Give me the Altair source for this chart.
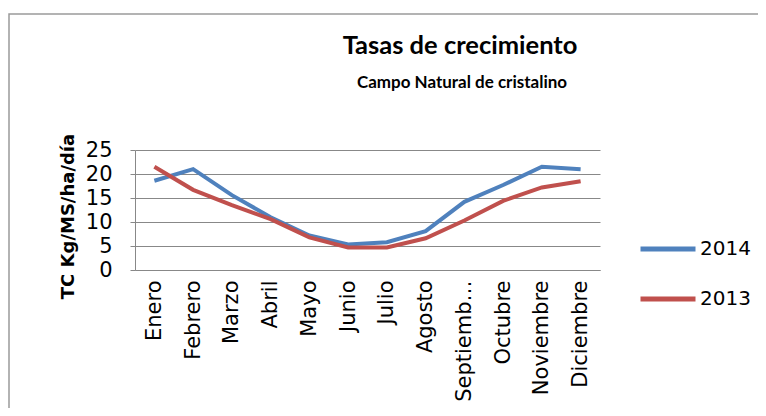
import altair as alt
import pandas as pd

months = ["Enero", "Febrero", "Marzo", "Abril", "Mayo", "Junio", "Julio",
          "Agosto", "Septiembre", "Octubre", "Noviembre", "Diciembre"]
tc_2014 = [18.6, 21.0, 15.6, 11.0, 7.2, 5.3, 5.8, 8.1, 14.2, 17.7, 21.5, 21.0]
tc_2013 = [21.5, 16.7, 13.5, 10.6, 6.8, 4.7, 4.7, 6.6, 10.3, 14.4, 17.2, 18.5]
series = ["2014", "2013"]
colors = ["#4F81BD", "#C0504D"]
y_ticks = [0, 5, 10, 15, 20, 25]
title_text = "Tasas de crecimiento"
subtitle_text = "Campo Natural de cristalino"

rows = []
for name, vals in zip(series, [tc_2014, tc_2013]):
    for m, v in zip(months, vals):
        rows.append({"Mes": m, "Serie": name, "TC": v})
df = pd.DataFrame(rows)

W, H = 465, 120
PL, PT = 127, 142
PR = 750 - PL - W
PB = 400 - PT - H

FONT = "DejaVu Sans"
TFONT = "Lato"

lines = alt.Chart(df).mark_line(strokeWidth=4).encode(
    x=alt.X("Mes:N", sort=months, scale=alt.Scale(type="point", padding=0.5),
            axis=alt.Axis(title=None, labelAngle=270, labelAlign="right",
                          labelBaseline="middle", labelPadding=10,
                          labelLimit=200, ticks=False, domainColor="#888888",
                          labelExpr="datum.label == 'Septiembre' ? 'Septiemb…' : datum.label",
                          labelFont=FONT, labelFontSize=21, labelColor="#000000")),
    y=alt.Y("TC:Q", scale=alt.Scale(domain=[0, 25], nice=False),
            axis=alt.Axis(title="TC Kg/MS/ha/día", values=y_ticks,
                          titleFont=FONT, titleFontSize=18, titleFontWeight="bold",
                          titleColor="#000000", titlePadding=8, titleY=66,
                          labelFont=FONT, labelFontSize=21, labelColor="#000000",
                          labelPadding=18, tickSize=5, tickColor="#888888",
                          domainColor="#888888", gridColor="#888888")),
    color=alt.Color("Serie:N", sort=series,
                    scale=alt.Scale(domain=series, range=colors),
                    legend=alt.Legend(title=None, orient="none", legendX=503, legendY=69,
                                      symbolType="stroke", symbolSize=3025,
                                      symbolStrokeWidth=5, labelFont=FONT,
                                      labelFontSize=20, labelColor="#000000",
                                      labelOffset=2, rowPadding=10)),
)

border = alt.Chart(pd.DataFrame({"a": [0]})).mark_rect(
    fill="transparent", stroke="#9a9a9a", strokeWidth=1.5
).encode(x=alt.value(1 - PL), x2=alt.value(900), y=alt.value(6 - PT), y2=alt.value(600))

title_mark = alt.Chart(pd.DataFrame({"t": [title_text]})).mark_text(
    font=TFONT, fontSize=25.5, fontWeight="bold", color="#000000",
    align="center", baseline="alphabetic"
).encode(text="t:N", x=alt.value(325), y=alt.value(-96))

subtitle_mark = alt.Chart(pd.DataFrame({"t": [subtitle_text]})).mark_text(
    font=TFONT, fontSize=17, fontWeight="bold", color="#000000",
    align="center", baseline="alphabetic"
).encode(text="t:N", x=alt.value(327), y=alt.value(-62))

chart = alt.layer(border, lines, title_mark, subtitle_mark).properties(
    width=W, height=H,
    autosize=alt.AutoSizeParams(type="none"),
    padding={"left": PL, "top": PT, "right": PR, "bottom": PB},
).configure_view(stroke=None).configure_axisY(grid=True).configure_axisX(grid=False)

chart.save("out.html", embed_options={"renderer": "svg", "actions": False})
